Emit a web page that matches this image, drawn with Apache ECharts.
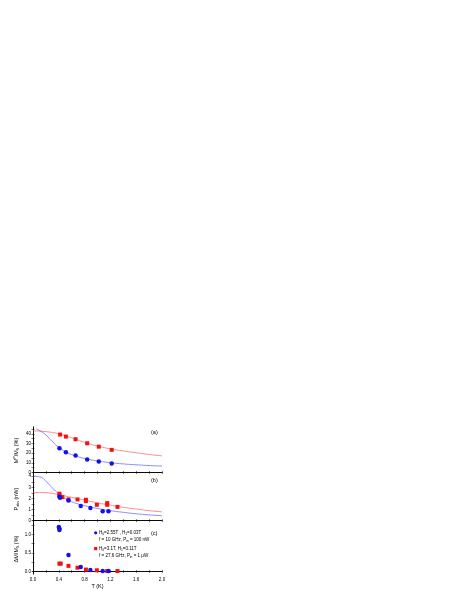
<!DOCTYPE html>
<html>
<head>
<meta charset="utf-8">
<script src="https://cdn.jsdelivr.net/npm/echarts@6/dist/echarts.min.js"></script>
<style>
  html, body { margin: 0; padding: 0; background: #fff; }
  #chart { width: 463px; height: 599px; }
</style>
</head>
<body>
<div id="chart"></div>
<script>
// panel (a): M^P/M_S (%)
const aRedT = [0.42, 0.51, 0.66, 0.84, 1.02, 1.22];
const aRedM = [39.2, 37.1, 34.4, 30.2, 26.7, 23.4];
const aBlueT = [0.41, 0.51, 0.66, 0.84, 1.02, 1.22];
const aBlueM = [25.2, 21.0, 17.5, 13.4, 11.3, 9.3];
const aFitT = [0, 0.2, 0.4, 0.6, 0.8, 1.0, 1.2, 1.4, 1.6, 1.8, 2.0];
const aRedFit = [43, 42.2, 40, 35.8, 31.2, 27.3, 24.4, 22.3, 20.4, 18.7, 17.2];
const aBlueFitT = [0.05, 0.1, 0.2, 0.3, 0.4, 0.5, 0.6, 0.8, 1.0, 1.2, 1.4, 1.6, 1.8, 2.0];
const aBlueFit = [45, 43.5, 38.8, 32, 26, 21.5, 18.5, 14.5, 12, 10.2, 8.9, 8, 7.2, 6.7];

// panel (b): P_abs (nW)
const bRedT = [0.41, 0.41, 0.455, 0.55, 0.69, 0.82, 0.82, 0.99, 1.15, 1.15, 1.31];
const bRedP = [2.43, 2.27, 2.12, 1.91, 1.91, 1.88, 1.76, 1.43, 1.58, 1.43, 1.24];
const bBlueT = [0.41, 0.42, 0.55, 0.74, 0.89, 1.08, 1.17];
const bBlueP = [2.15, 2.06, 1.82, 1.33, 1.15, 0.85, 0.85];
const bFitT = [0, 0.1, 0.2, 0.3, 0.4, 0.5, 0.6, 0.8, 1.0, 1.2, 1.4, 1.6, 1.8, 2.0];
const bBlueFit = [4.0, 3.95, 3.55, 2.95, 2.4, 2.0, 1.7, 1.35, 1.1, 0.9, 0.75, 0.62, 0.52, 0.45];
const bRedFit = [2.55, 2.54, 2.52, 2.45, 2.35, 2.22, 2.1, 1.85, 1.6, 1.4, 1.2, 1.05, 0.9, 0.8];

// panel (c): dM/M_S (%)
const cBlueT = [0.40, 0.41, 0.41, 0.55, 0.74, 0.89, 1.08, 1.17];
const cBlueD = [1.2, 1.16, 1.12, 0.44, 0.12, 0.04, 0.01, 0.01];
const cRedT = [0.41, 0.43, 0.55, 0.69, 0.82, 0.99, 1.15, 1.31];
const cRedD = [0.21, 0.21, 0.15, 0.10, 0.05, 0.03, 0.01, 0.01];

const xLabels = [0, 0.4, 0.8, 1.2, 1.6, 2.0];
const xTicks = [0, 0.2, 0.4, 0.6, 0.8, 1.0, 1.2, 1.4, 1.6, 1.8, 2.0];
const aLabels = [0, 10, 20, 30, 40];
const aTicks = [0, 5, 10, 15, 20, 25, 30, 35, 40, 45];
const bLabels = [0, 1, 2, 3, 4];
const bTicks = [0, 0.5, 1, 1.5, 2, 2.5, 3, 3.5, 4];
const cLabels = [0, 0.5, 1.0];
const cTicks = [0, 0.25, 0.5, 0.75, 1.0, 1.25];

const RED = '#f51010', BLUE = '#1010f0';
const RED_LINE = '#ff5a5a', BLUE_LINE = '#5a5aff';
const FONT = 'Liberation Sans';

const zip = (xs, ys) => xs.map((x, i) => [x, ys[i]]);

const grids = [
  { left: 33, width: 129, top: 427, height: 47 },
  { left: 33, width: 129, top: 474, height: 50 },
  { left: 33, width: 129, top: 524, height: 50 }
];
const yRanges = [[-1.5, 47], [-0.3, 4.2], [-0.07, 1.28]];
const yLabelSets = [aLabels, bLabels, cLabels];
const yTickSets = [aTicks, bTicks, cTicks];
const yDigits = [0, 0, 1];

const sub = { fontSize: 3.5, padding: [3, 0, 0, 0], fontFamily: FONT, color: '#000' };
const sup = { fontSize: 3.5, padding: [0, 0, 3, 0], fontFamily: FONT, color: '#000' };
const yNames = [
  'M{sup|P}/M{sub|S} (%)',
  'P{sub|abs} (nW)',
  'ΔM/M{sub|S} (%)'
];

const xAxes = [], yAxes = [];
grids.forEach((g, i) => {
  xAxes.push({
    gridIndex: i, type: 'value', min: 0, max: 2, position: 'bottom',
    axisLine: { lineStyle: { color: '#000', width: 0.8 } },
    axisTick: { inside: true, length: 1.5, customValues: xTicks, lineStyle: { width: 0.5 } },
    axisLabel: {
      show: i === 2, customValues: xLabels, fontSize: 4.5, color: '#000', margin: 3,
      fontFamily: FONT, formatter: v => v.toFixed(1)
    },
    splitLine: { show: false },
    name: i === 2 ? 'T (K)' : '', nameLocation: 'middle', nameGap: 9,
    nameTextStyle: { fontSize: 5.5, fontFamily: FONT, color: '#000' }
  });
  xAxes.push({
    gridIndex: i, type: 'value', min: 0, max: 2, position: 'top',
    axisLine: { lineStyle: { color: '#000', width: 0.8 } },
    axisTick: { inside: true, length: 1.5, customValues: xTicks, lineStyle: { width: 0.5 } },
    axisLabel: { show: false }, splitLine: { show: false }
  });
  yAxes.push({
    gridIndex: i, type: 'value', min: yRanges[i][0], max: yRanges[i][1], position: 'left',
    axisLine: { show: true, lineStyle: { color: '#000', width: 0.8 } },
    axisTick: { show: true, inside: true, length: 1.5, customValues: yTickSets[i], lineStyle: { width: 0.5 } },
    axisLabel: {
      customValues: yLabelSets[i], fontSize: 4.5, color: '#000', margin: 2,
      fontFamily: FONT, formatter: v => v.toFixed(yDigits[i])
    },
    splitLine: { show: false },
    name: yNames[i], nameLocation: 'middle', nameGap: 13, nameRotate: 90,
    nameTextStyle: { fontSize: 5.5, fontFamily: FONT, color: '#000', rich: { sub, sup } }
  });
  yAxes.push({
    gridIndex: i, type: 'value', min: yRanges[i][0], max: yRanges[i][1], position: 'right',
    axisLine: { show: true, lineStyle: { color: '#000', width: 0.8 } },
    axisTick: { show: true, inside: true, length: 1.5, customValues: yTickSets[i], lineStyle: { width: 0.5 } },
    axisLabel: { show: false }, splitLine: { show: false }
  });
});

const line = (gi, data, color) => ({
  type: 'line', xAxisIndex: gi * 2, yAxisIndex: gi * 2, data, smooth: true,
  showSymbol: false, lineStyle: { color, width: 0.7 }, z: 2, silent: true
});
const dots = (gi, data, color, symbol) => ({
  type: 'scatter', xAxisIndex: gi * 2, yAxisIndex: gi * 2, data, symbol,
  symbolSize: symbol === 'rect' ? 4 : 4.5, itemStyle: { color, opacity: 1 }, z: 3, silent: true
});

const series = [
  line(0, zip(aFitT, aRedFit), RED_LINE),
  line(0, zip(aBlueFitT, aBlueFit), BLUE_LINE),
  dots(0, zip(aRedT, aRedM), RED, 'rect'),
  dots(0, zip(aBlueT, aBlueM), BLUE, 'circle'),
  line(1, zip(bFitT, bBlueFit), BLUE_LINE),
  line(1, zip(bFitT, bRedFit), RED_LINE),
  dots(1, zip(bRedT, bRedP), RED, 'rect'),
  dots(1, zip(bBlueT, bBlueP), BLUE, 'circle'),
  dots(2, zip(cRedT, cRedD), RED, 'rect'),
  dots(2, zip(cBlueT, cBlueD), BLUE, 'circle')
];

const txt = (x, y, text, size) => ({
  type: 'text', x, y, style: {
    text, fontSize: size || 4.5, fontFamily: FONT, fill: '#000',
    rich: { sub: { fontSize: 3.3, padding: [2.5, 0, 0, 0], fontFamily: FONT } }
  }
});

const graphic = [
  txt(151, 429.5, '(a)', 5.5),
  txt(151, 477.5, '(b)', 5.5),
  txt(151, 530, '(c)', 5.5),
  { type: 'circle', shape: { cx: 95.7, cy: 532.8, r: 1.6 }, style: { fill: BLUE } },
  txt(99, 530.3, 'H{sub|0}=2.55T , H{sub|1}=0.03T'),
  txt(99, 537.3, 'f = 10 GHz, P{sub|in} = 100 nW'),
  { type: 'rect', shape: { x: 94.1, y: 547, width: 3.2, height: 3.2 }, style: { fill: RED } },
  txt(99, 546.3, 'H{sub|0}=3.1T, H{sub|1}=0.11T'),
  txt(99, 553.3, 'f = 27.6 GHz, P{sub|in} = 1 μW')
];

const chart = echarts.init(document.getElementById('chart'), null, { renderer: 'canvas' });
chart.setOption({
  animation: false,
  backgroundColor: '#fff',
  grid: grids,
  xAxis: xAxes,
  yAxis: yAxes,
  series,
  graphic
});
</script>
</body>
</html>
